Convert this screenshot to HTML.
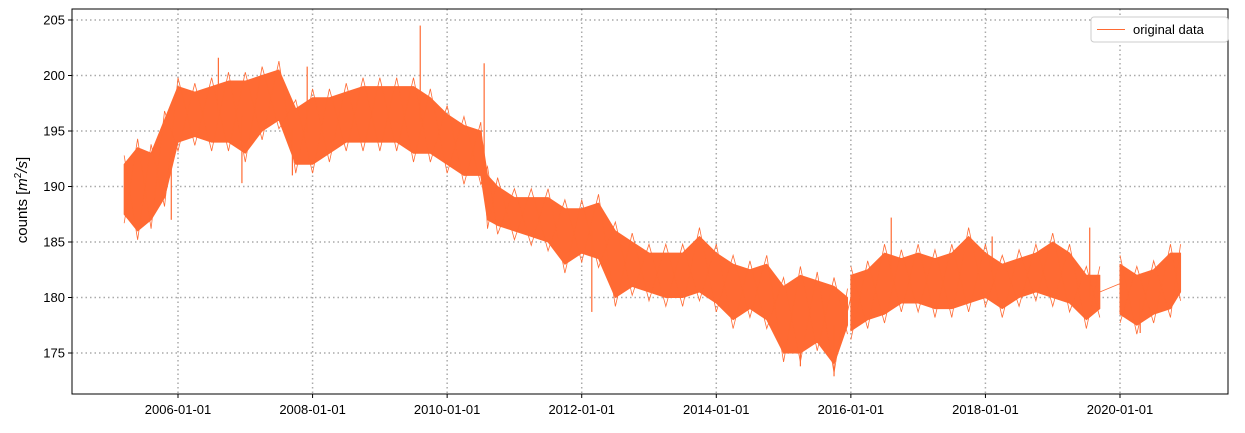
<!DOCTYPE html>
<html><head><meta charset="utf-8">
<style>
body{margin:0;background:#fff;width:1245px;height:428px;overflow:hidden;font-family:"Liberation Sans",sans-serif;}
svg text{font-family:"Liberation Sans",sans-serif;}
</style></head>
<body>
<svg id="chart" width="1245" height="428">
<g id="grid"></g>
<g id="series"></g>
<rect x="72" y="9" width="1156" height="385" fill="none" stroke="#000" stroke-width="1"/>
<g id="yticks"></g>
<g id="xticks"></g>
<text x="27" y="200" font-size="15" text-anchor="middle" transform="rotate(-90 27 200)">counts [<tspan font-style="italic">m</tspan><tspan font-size="10" dy="-6">2</tspan><tspan dy="6" font-style="italic">/s</tspan>]</text>
<g>
<rect x="1091" y="17" width="137" height="25" rx="3" fill="#fff" stroke="#ccc"/>
<line x1="1097" y1="29.5" x2="1125" y2="29.5" stroke="#ff6a33" stroke-width="1"/>
<text x="1133" y="34" font-size="13">original data</text>
</g>
</svg>
<script>
const tVals=[2005.2,2005.4,2005.6,2005.8,2006.0,2006.25,2006.5,2006.75,2007.0,2007.25,2007.5,2007.75,2008.0,2008.25,2008.5,2008.75,2009.0,2009.25,2009.5,2009.75,2010.0,2010.25,2010.5,2010.6,2010.75,2011.0,2011.25,2011.5,2011.75,2012.0,2012.25,2012.5,2012.75,2013.0,2013.25,2013.5,2013.75,2014.0,2014.25,2014.5,2014.75,2015.0,2015.25,2015.5,2015.75,2015.95,2016.0,2016.25,2016.5,2016.75,2017.0,2017.25,2017.5,2017.75,2018.0,2018.25,2018.5,2018.75,2019.0,2019.25,2019.5,2019.7,2020.0,2020.25,2020.5,2020.75,2020.9];
const loVals=[187.5,186,187,189,194,194.5,194,194,193,195,196,192,192,193,194,194,194,194,193,193,192,191,191,187,186.5,186,185.5,185,183,184,183.5,180,181,180.5,180,180,180.5,179.5,178,179,178,175,175,176,174,177.5,177,178,178.5,179.5,179.5,179,179,179.5,180,179,180,180.5,180,179.5,178,179,178.5,177.5,178.5,179,180.5];
const hiVals=[192,193.5,193,196,199,198.5,199,199.5,199.5,200,200.5,197,198,198,198.5,199,199,199,199,198,196.5,195.5,195,191,190,189,189,189,188,188,188.5,186,185,184,184,184,185.5,184,183,182.5,183,181,182,181.5,181,180,182,182.5,184,183.5,184,183.5,184,185.5,184,183,183.5,184,185,184,182,182,183,182,182.5,184,184];
const spikeT=[2005.9,2006.6,2006.95,2007.92,2007.7,2009.6,2010.55,2012.15,2015.25,2015.75,2016.6,2018.1,2019.55,2020.3];
const spikeV=[187,201.6,190.3,200.8,191,204.5,201.1,178.7,173.8,172.9,187.2,185.5,186.3,176.8];
const yTicks=[175,180,185,190,195,200,205];
const xTickYears=[2006,2008,2010,2012,2014,2016,2018,2020];
const xTickLabels=["2006-01-01","2008-01-01","2010-01-01","2012-01-01","2014-01-01","2016-01-01","2018-01-01","2020-01-01"];
const NS="http://www.w3.org/2000/svg";
const L=72,R=1228,T=9,B=394;
function X(t){return 178+(t-2006)*(942/14);}
function Y(v){return 20+(205-v)*(333/30);}
function mk(tag,attrs,parent){const e=document.createElementNS(NS,tag);for(const k in attrs)e.setAttribute(k,attrs[k]);parent.appendChild(e);return e;}
const grid=document.getElementById('grid'),yt=document.getElementById('yticks'),xt=document.getElementById('xticks'),ser=document.getElementById('series');
yTicks.forEach(v=>{
 const g=mk('line',{x1:L,x2:R,y1:Y(v),y2:Y(v),stroke:'#aaa','stroke-width':1.5,'stroke-dasharray':'1.5,3'},grid);
 
 
 const tk=mk('line',{x1:L-4,x2:L,y1:Y(v),y2:Y(v),stroke:'#000'},yt);
 
 
 const tx=mk('text',{x:L-7,y:Y(v)+4.5,'font-size':13,'text-anchor':'end'},yt);
 tx.textContent=v;
 
 
});
xTickYears.forEach((yr,i)=>{
 const g=mk('line',{x1:X(yr),x2:X(yr),y1:T,y2:B,stroke:'#aaa','stroke-width':1.5,'stroke-dasharray':'1.5,3'},grid);
 
 
 const tk=mk('line',{x1:X(yr),x2:X(yr),y1:B,y2:B+4,stroke:'#000'},xt);
 
 
 const tx=mk('text',{x:X(yr),y:B+20,'font-size':13,'text-anchor':'middle'},xt);
 tx.textContent=xTickLabels[i];
 
 
});
const C='#ff6a33';
let blocks=[[0]];
for(let i=1;i<tVals.length;i++){ if(tVals[i]===2016.0||tVals[i]===2020.0) blocks.push([i]); else blocks[blocks.length-1].push(i);}
blocks.forEach((b,bi)=>{
 let pts=b.map(i=>X(tVals[i])+','+Y(hiVals[i])).concat(b.slice().reverse().map(i=>X(tVals[i])+','+Y(loVals[i])));
 const p=mk('polygon',{points:pts.join(' '),fill:C,stroke:C,'stroke-width':1,'stroke-linejoin':'round'},ser);
 
 
 [0,1].forEach(par=>{
  let z=b.map((i,k)=>X(tVals[i])+','+Y((k+par)%2?loVals[i]-0.8:hiVals[i]+0.8));
  const pl=mk('polyline',{points:z.join(' '),fill:'none',stroke:C,'stroke-width':0.8},ser);
  
  
 });
 if(bi>0){const a=blocks[bi-1][blocks[bi-1].length-1],c=b[0];
  const g=mk('line',{x1:X(tVals[a]),y1:Y((loVals[a]+hiVals[a])/2),x2:X(tVals[c]),y2:Y((loVals[c]+hiVals[c])/2+0.5),stroke:C,'stroke-width':0.8},ser);
  
  }
});
function midAt(t){for(let i=1;i<tVals.length;i++){if(tVals[i]>=t){const f=(t-tVals[i-1])/(tVals[i]-tVals[i-1]);return ((loVals[i-1]+hiVals[i-1])*(1-f)+(loVals[i]+hiVals[i])*f)/2;}}return 180;}
spikeT.forEach((t,i)=>{
 const s=mk('line',{x1:X(t),x2:X(t),y1:Y(midAt(t)),y2:Y(spikeV[i]),stroke:C,'stroke-width':1.2},ser);
 
 
});
</script>
</body></html>
